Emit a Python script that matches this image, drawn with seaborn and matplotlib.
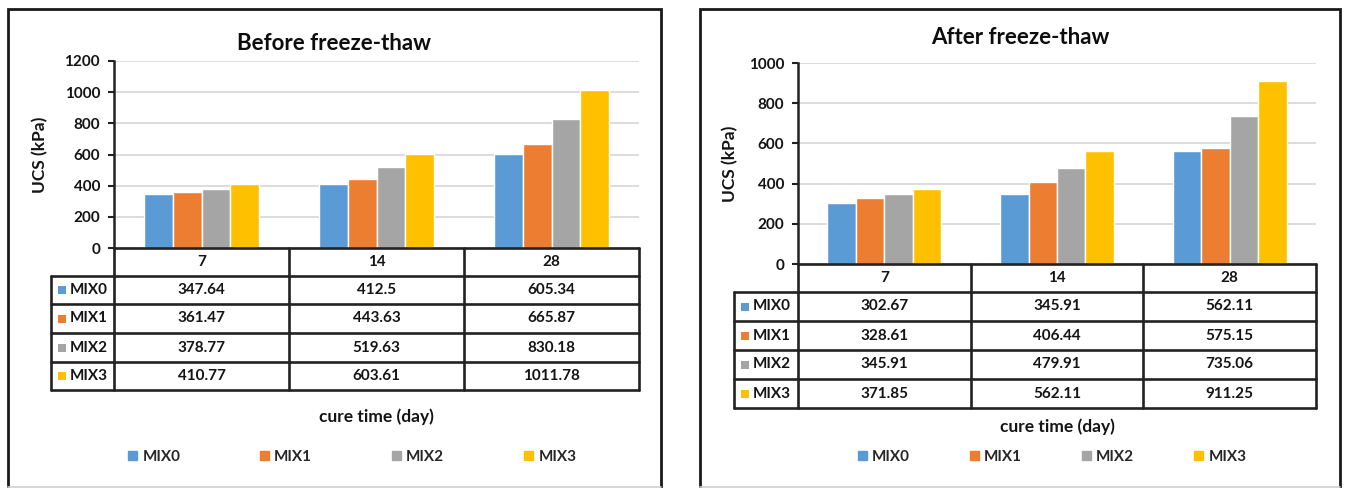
import matplotlib
matplotlib.use("Agg")
import matplotlib.pyplot as plt
from matplotlib.patches import Patch, Rectangle
import pandas as pd
import seaborn as sns

# ---- data -------------------------------------------------------------
days = ["7", "14", "28"]
mixes = ["MIX0", "MIX1", "MIX2", "MIX3"]

before_mix0 = [347.64, 412.5, 605.34]
before_mix1 = [361.47, 443.63, 665.87]
before_mix2 = [378.77, 519.63, 830.18]
before_mix3 = [410.77, 603.61, 1011.78]

after_mix0 = [302.67, 345.91, 562.11]
after_mix1 = [328.61, 406.44, 575.15]
after_mix2 = [345.91, 479.91, 735.06]
after_mix3 = [371.85, 562.11, 911.25]

before_ticks = [0, 200, 400, 600, 800, 1000, 1200]
after_ticks = [0, 200, 400, 600, 800, 1000]

titles = ["Before freeze-thaw", "After freeze-thaw"]
y_label = "UCS (kPa)"
x_label = "cure time (day)"
mix_colors = ["#5B9BD5", "#ED7D31", "#A5A5A5", "#FFC000"]

# ---- style ------------------------------------------------------------
sns.set_theme(style="white")
plt.rcParams["font.family"] = ["Lato", "DejaVu Sans"]
plt.rcParams["font.weight"] = "bold"
plt.rcParams["axes.labelweight"] = "bold"

W, H = 1346, 488
fig = plt.figure(figsize=(W / 100, H / 100), dpi=100)
fig.patch.set_facecolor("white")

LINE = "#222222"
TXT = "#141414"
FS = 11

panels = [
    dict(values=[before_mix0, before_mix1, before_mix2, before_mix3],
         ticks=before_ticks, title=titles[0],
         frame=(8, 9, 661, 487), plot=(114, 61, 639, 248),
         rows=[248, 276, 304, 333, 362, 390], label_x=51,
         title_xy=(334, 43), ylabel_x=40, xlabel_y=417,
         legend_xy=(352, 457), colspacing=5.2),
    dict(values=[after_mix0, after_mix1, after_mix2, after_mix3],
         ticks=after_ticks, title=titles[1],
         frame=(700, 9, 1340, 487), plot=(798, 63, 1316, 264),
         rows=[264, 292, 321, 350, 379, 408], label_x=734,
         title_xy=(1020, 37), ylabel_x=730, xlabel_y=427,
         legend_xy=(1052, 457), colspacing=3.9),
]

# bar axes
for p in panels:
    x0, y0, x1, y1 = p["plot"]
    ax = fig.add_axes([x0 / W, 1 - y1 / H, (x1 - x0) / W, (y1 - y0) / H])
    df = pd.DataFrame({
        "day": [d for _ in mixes for d in days],
        "mix": [m for m in mixes for _ in days],
        "ucs": [v for series in p["values"] for v in series],
    })
    sns.barplot(data=df, x="day", y="ucs", hue="mix", order=days,
                hue_order=mixes, palette=mix_colors, saturation=1,
                width=0.66, gap=0, legend=False, errorbar=None, ax=ax)
    ax.set_xlim(-0.5, 2.5)
    ax.set_ylim(p["ticks"][0], p["ticks"][-1])
    ax.set_yticks(p["ticks"])
    ax.set_yticklabels([str(t) for t in p["ticks"]], fontsize=FS,
                       fontweight="bold", color=TXT)
    ax.set_xticks([])
    ax.set_xlabel("")
    ax.set_ylabel("")
    ax.yaxis.grid(True, color="#D9D9D9", lw=1.3)
    ax.set_axisbelow(True)
    for side in ("top", "right", "bottom"):
        ax.spines[side].set_visible(False)
    ax.spines["left"].set_color(LINE)
    ax.spines["left"].set_linewidth(1.8)
    ax.tick_params(axis="y", left=True, length=4, width=1.5,
                   color=LINE, pad=6)
    ax.patch.set_alpha(0)

# overlay in pixel coordinates for frames, titles and data tables
ov = fig.add_axes([0, 0, 1, 1])
ov.set_xlim(0, W)
ov.set_ylim(H, 0)
ov.axis("off")
ov.patch.set_alpha(0)

for p in panels:
    fx0, fy0, fx1, fy1 = p["frame"]
    ov.plot([fx0, fx0, fx1, fx1], [fy1, fy0, fy0, fy1], color="#1a1a1a",
            lw=2.0, solid_joinstyle="miter")
    ov.plot([fx0, fx1], [fy1, fy1], color="#d0d0d0", lw=1.2)

    x0, y0, x1, y1 = p["plot"]
    tx, ty = p["title_xy"]
    ov.text(tx, ty, p["title"], ha="center", va="center", fontsize=16,
            fontweight="bold", color="#0d0d0d")
    ov.text(p["ylabel_x"], (y0 + y1) / 2, y_label, ha="center", va="center",
            rotation=90, fontsize=12.5, fontweight="bold", color=TXT)
    ov.text((x0 + x1) / 2, p["xlabel_y"], x_label, ha="center",
            va="center", fontsize=12.5, fontweight="bold", color=TXT)

    rows = p["rows"]
    lx = p["label_x"]
    col_w = (x1 - x0) / len(days)
    col_edges = [x0 + i * col_w for i in range(len(days) + 1)]

    # horizontal rules
    ov.plot([x0, x1], [rows[0], rows[0]], color=LINE, lw=1.9)
    for r in rows[1:]:
        ov.plot([lx, x1], [r, r], color=LINE, lw=1.9)
    # vertical rules
    ov.plot([lx, lx], [rows[1], rows[-1]], color=LINE, lw=1.9)
    for cx in col_edges:
        ov.plot([cx, cx], [rows[0], rows[-1]], color=LINE, lw=1.9)

    # header row with cure times
    for i, d in enumerate(days):
        ov.text(col_edges[i] + col_w / 2, (rows[0] + rows[1]) / 2, d,
                ha="center", va="center", fontsize=FS, fontweight="bold",
                color=TXT)
    # one row per mix
    for j, (m, series) in enumerate(zip(mixes, p["values"])):
        yc = (rows[j + 1] + rows[j + 2]) / 2
        ov.add_patch(Rectangle((lx + 7, yc - 4), 8, 8,
                               color=mix_colors[j], lw=0))
        ov.text(lx + 19, yc, m, ha="left", va="center", fontsize=FS,
                fontweight="bold", color=TXT)
        for i, v in enumerate(series):
            ov.text(col_edges[i] + col_w / 2, yc, f"{v:g}", ha="center",
                    va="center", fontsize=FS, fontweight="bold", color=TXT)

    lgx, lgy = p["legend_xy"]
    handles = [Patch(color=c, label=m) for c, m in zip(mix_colors, mixes)]
    fig.legend(handles=handles, loc="center",
               bbox_to_anchor=(lgx / W, 1 - lgy / H), ncol=4, frameon=False,
               handlelength=0.6, handleheight=0.6, handletextpad=0.35,
               columnspacing=p["colspacing"],
               prop={"size": FS, "weight": "bold"})

fig.savefig("out.png", dpi=100, facecolor="white")
